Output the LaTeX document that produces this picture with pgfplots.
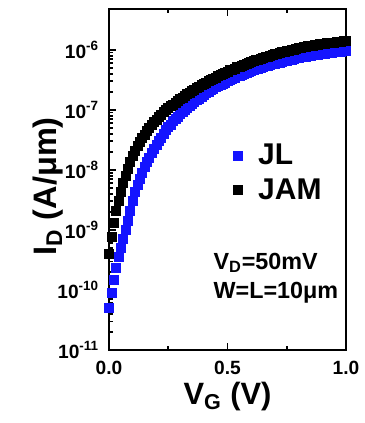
\documentclass[border=0pt]{standalone}
\usepackage{fontspec}
\setmainfont{Liberation Sans}
\usepackage{pgfplots}
\usepackage{pgfplotstable}
\pgfplotsset{compat=1.18}

\pgfplotstableread{
V I
0.00 5.01e-11
0.01 8.91e-11
0.02 1.48e-10
0.03 2.34e-10
0.04 3.55e-10
0.05 5.13e-10
0.06 7.24e-10
0.07 1.00e-9
0.08 1.41e-9
0.09 2.09e-9
0.10 3.09e-9
0.11 4.27e-9
0.12 5.62e-9
0.13 7.24e-9
0.14 9.12e-9
0.15 1.12e-8
0.16 1.35e-8
0.17 1.62e-8
0.18 1.91e-8
0.19 2.24e-8
0.20 2.63e-8
0.21 3.02e-8
0.22 3.47e-8
0.23 3.98e-8
0.24 4.57e-8
0.25 5.13e-8
0.26 5.75e-8
0.27 6.46e-8
0.28 7.08e-8
0.29 7.76e-8
0.30 8.51e-8
0.31 9.33e-8
0.32 1.02e-7
0.33 1.10e-7
0.34 1.17e-7
0.35 1.26e-7
0.36 1.35e-7
0.37 1.45e-7
0.38 1.55e-7
0.39 1.66e-7
0.40 1.78e-7
0.41 1.91e-7
0.42 2.00e-7
0.43 2.14e-7
0.44 2.24e-7
0.45 2.40e-7
0.46 2.51e-7
0.47 2.63e-7
0.48 2.75e-7
0.49 2.88e-7
0.50 3.02e-7
0.51 3.16e-7
0.52 3.31e-7
0.53 3.47e-7
0.54 3.63e-7
0.55 3.72e-7
0.56 3.89e-7
0.57 3.98e-7
0.58 4.17e-7
0.59 4.27e-7
0.60 4.47e-7
0.61 4.57e-7
0.62 4.79e-7
0.63 4.90e-7
0.64 5.01e-7
0.65 5.25e-7
0.66 5.37e-7
0.67 5.50e-7
0.68 5.62e-7
0.69 5.75e-7
0.70 5.89e-7
0.71 6.03e-7
0.72 6.17e-7
0.73 6.31e-7
0.74 6.46e-7
0.75 6.61e-7
0.76 6.76e-7
0.77 6.92e-7
0.78 7.08e-7
0.79 7.24e-7
0.80 7.41e-7
0.81 7.59e-7
0.82 7.67e-7
0.83 7.76e-7
0.84 7.94e-7
0.85 8.04e-7
0.86 8.13e-7
0.87 8.32e-7
0.88 8.41e-7
0.89 8.51e-7
0.90 8.61e-7
0.91 8.71e-7
0.92 8.81e-7
0.93 8.91e-7
0.94 9.02e-7
0.95 9.12e-7
0.96 9.23e-7
0.97 9.33e-7
0.98 9.44e-7
0.99 9.55e-7
1.00 9.66e-7
}\jl

\pgfplotstableread{
V I
0.00 3.98e-10
0.01 7.59e-10
0.02 1.32e-9
0.03 2.09e-9
0.04 3.09e-9
0.05 4.37e-9
0.06 6.03e-9
0.07 7.94e-9
0.08 1.05e-8
0.09 1.35e-8
0.10 1.70e-8
0.11 2.09e-8
0.12 2.51e-8
0.13 2.95e-8
0.14 3.39e-8
0.15 3.89e-8
0.16 4.47e-8
0.17 5.01e-8
0.18 5.62e-8
0.19 6.31e-8
0.20 6.92e-8
0.21 7.59e-8
0.22 8.32e-8
0.23 9.12e-8
0.24 1.00e-7
0.25 1.07e-7
0.26 1.15e-7
0.27 1.23e-7
0.28 1.32e-7
0.29 1.41e-7
0.30 1.51e-7
0.31 1.62e-7
0.32 1.74e-7
0.33 1.86e-7
0.34 1.95e-7
0.35 2.09e-7
0.36 2.19e-7
0.37 2.34e-7
0.38 2.45e-7
0.39 2.57e-7
0.40 2.75e-7
0.41 2.88e-7
0.42 3.02e-7
0.43 3.16e-7
0.44 3.31e-7
0.45 3.47e-7
0.46 3.63e-7
0.47 3.80e-7
0.48 3.98e-7
0.49 4.17e-7
0.50 4.37e-7
0.51 4.57e-7
0.52 4.68e-7
0.53 4.90e-7
0.54 5.13e-7
0.55 5.25e-7
0.56 5.50e-7
0.57 5.62e-7
0.58 5.89e-7
0.59 6.03e-7
0.60 6.31e-7
0.61 6.46e-7
0.62 6.76e-7
0.63 6.92e-7
0.64 7.08e-7
0.65 7.41e-7
0.66 7.59e-7
0.67 7.76e-7
0.68 7.94e-7
0.69 8.32e-7
0.70 8.51e-7
0.71 8.71e-7
0.72 8.91e-7
0.73 9.12e-7
0.74 9.33e-7
0.75 9.55e-7
0.76 9.77e-7
0.77 1.00e-6
0.78 1.02e-6
0.79 1.05e-6
0.80 1.07e-6
0.81 1.10e-6
0.82 1.12e-6
0.83 1.14e-6
0.84 1.15e-6
0.85 1.17e-6
0.86 1.19e-6
0.87 1.20e-6
0.88 1.23e-6
0.89 1.24e-6
0.90 1.26e-6
0.91 1.27e-6
0.92 1.29e-6
0.93 1.30e-6
0.94 1.32e-6
0.95 1.33e-6
0.96 1.35e-6
0.97 1.36e-6
0.98 1.38e-6
0.99 1.40e-6
1.00 1.41e-6
}\jam

\definecolor{jlblue}{RGB}{20,20,255}

\begin{document}
\begin{tikzpicture}
\begin{axis}[
  name=ax,
  scale only axis,
  width=142.2pt, height=204.6pt,
  xmin=0, xmax=1,
  ymode=log, ymin=1e-11, ymax=4.8e-6,
  xtick={0,0.5,1},
  xticklabels={0.0,0.5,1.0},
  minor x tick num=1,
  ytick={1e-11,1e-10,1e-9,1e-8,1e-7,1e-6},
  yticklabels={10\textsuperscript{-11},10\textsuperscript{-10},10\textsuperscript{-9},10\textsuperscript{-8},10\textsuperscript{-7},10\textsuperscript{-6}},
  xtick pos=both, ytick pos=left,
  tick align=inside,
  major tick length=4pt, minor tick length=2.2pt,
  every tick/.style={black, line width=1pt},
  axis line style={line width=1.2pt},
  tick label style={font=\fontsize{11.5}{12}\selectfont\bfseries},
  xticklabel style={yshift=-3pt},
  yticklabel style={xshift=-2.5pt},
  xlabel={V\textsubscript{G} (V)},
  ylabel={I\textsubscript{D} (A/μm)},
  label style={font=\fontsize{19.5}{21}\selectfont\bfseries},
  xlabel style={at={([yshift=-19pt]rel axis cs:0.5,0)}, anchor=north, inner sep=0pt, font=\fontsize{18.5}{20}\selectfont\bfseries},
  ylabel style={at={([xshift=-27pt]rel axis cs:0,0.48)}, anchor=south, inner sep=0pt},
  legend style={draw=none, fill=none, at={(rel axis cs:0.47,0.625)}, anchor=north west,
    font=\fontsize{18}{20}\selectfont\bfseries, row sep=3pt},
  legend cell align=left,
  legend image code/.code={\path (0cm,0cm) (0.6cm,0cm); \draw[#1] plot coordinates {(0.25cm,0cm)};},
]
\addplot[only marks, mark=square*, mark size=2.7pt, draw=jlblue, fill=jlblue] table[x=V,y=I] {\jl};
\addlegendentry{JL}
\addplot[only marks, mark=square*, mark size=2.7pt, draw=black, fill=black] table[x=V,y=I] {\jam};
\addlegendentry{JAM}
\node[anchor=west, font=\fontsize{14}{16}\selectfont\bfseries, inner sep=0pt] at (rel axis cs:0.44,0.255) {V\textsubscript{D}=50mV};
\node[anchor=west, font=\fontsize{14}{16}\selectfont\bfseries, inner sep=0pt] at (rel axis cs:0.44,0.167) {W=L=10μm};
\end{axis}
\path ([shift={(-65.4pt,-43.8pt)}]ax.south west) rectangle ([shift={(9pt,5.4pt)}]ax.north east);
\end{tikzpicture}
\end{document}
